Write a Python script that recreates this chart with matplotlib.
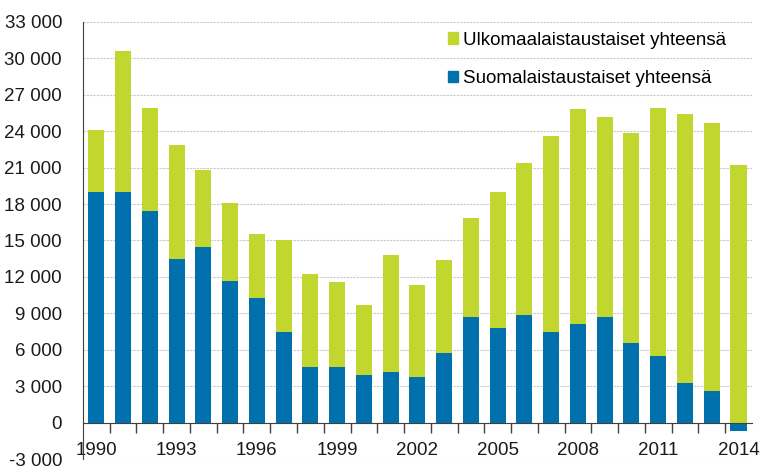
import numpy as np
import matplotlib
matplotlib.use("Agg")
import matplotlib.pyplot as plt
from matplotlib.patches import Patch
from matplotlib.ticker import FuncFormatter, FixedLocator

plt.rcParams['font.family'] = ['Liberation Sans', 'DejaVu Sans']

years = list(range(1990, 2015))
# Suomalaistaustaiset (blue) and ulkomaalaistaustaiset (green) values
suomi = [19000, 19000, 17400, 13450, 14500, 11700, 10250, 7500, 4600, 4600,
         3900, 4150, 3750, 5750, 8700, 7750, 8900, 7450, 8100, 8700,
         6550, 5500, 3250, 2600, -700]
ulko = [5100, 11600, 8550, 9450, 6300, 6350, 5250, 7500, 7600, 6950,
        5800, 9650, 7550, 7650, 8150, 11200, 12450, 16150, 17750, 16500,
        17300, 20450, 22150, 22050, 21200]
label_years = [1990, 1993, 1996, 1999, 2002, 2005, 2008, 2011, 2014]
legend_labels = ["Ulkomaalaistaustaiset yhteensä", "Suomalaistaustaiset yhteensä"]

green = '#c1d72f'
blue = '#0071ad'

fig = plt.figure(figsize=(7.61, 4.66), dpi=100)
ax = fig.add_axes([0.109, 0.015, 0.879, 0.938])

x = np.arange(len(years))
suomi_arr = np.array(suomi)
ax.bar(x, suomi_arr, width=0.6, color=blue, zorder=3)
ax.bar(x, ulko, width=0.6, bottom=np.clip(suomi_arr, 0, None), color=green, zorder=3)

ax.set_xlim(-0.5, len(years) - 0.5)
ax.set_ylim(-3000, 33000)
ax.set_yticks(np.arange(-3000, 33001, 3000))
ax.yaxis.set_major_formatter(FuncFormatter(
    lambda v, p: f"{int(v):,}".replace(",", " ")))
ax.tick_params(axis='y', length=0, pad=15, labelsize=13.5, colors='#1a1a1a')
ax.yaxis.grid(True, color='#c8c8c8', linestyle=(0, (2, 1)), linewidth=0.8, zorder=0)

# tick marks between categories, year labels under every third bar
ax.xaxis.set_major_locator(FixedLocator(x[:-1] + 0.5))
ax.xaxis.set_major_formatter(FuncFormatter(lambda v, p: ""))
ax.xaxis.set_minor_locator(FixedLocator([years.index(y) for y in label_years]))
ax.set_xticklabels([str(y) for y in label_years], minor=True)
ax.tick_params(axis='x', which='major', length=7, width=1, color='#404040', direction='out')
ax.tick_params(axis='x', which='minor', length=0, pad=14, labelsize=13.5, labelcolor='#1a1a1a')

for s in ['top', 'right']:
    ax.spines[s].set_visible(False)
ax.spines['bottom'].set_position(('data', 0))
ax.spines['bottom'].set_color('#404040')
ax.spines['left'].set_color('#404040')
ax.spines['bottom'].set_zorder(4)

handles = [Patch(color=green), Patch(color=blue)]
ax.legend(handles, legend_labels, loc='upper left', bbox_to_anchor=(0.545, 0.978),
          frameon=False, fontsize=13.5, handlelength=0.55, handleheight=0.55,
          handletextpad=0.3, labelspacing=1.15, borderpad=0, borderaxespad=0)

fig.savefig("out.png", dpi=100)
